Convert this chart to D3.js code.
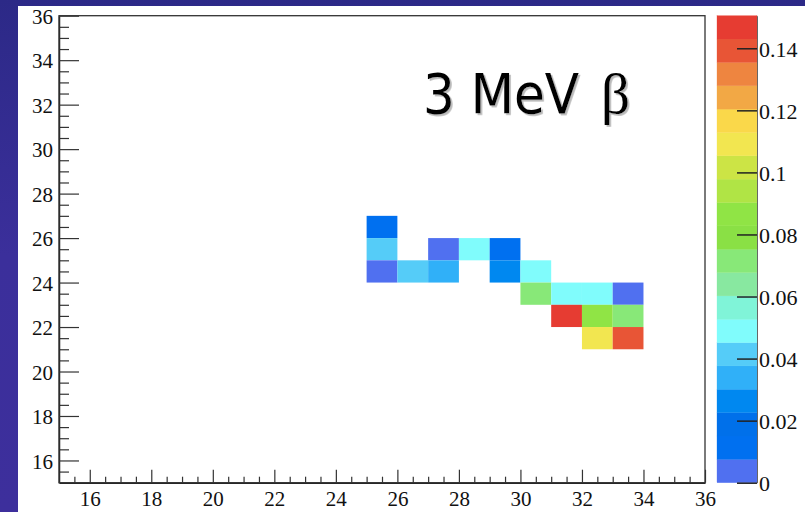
<!DOCTYPE html>
<html>
<head>
<meta charset="utf-8">
<script src="https://cdn.jsdelivr.net/npm/d3@7"></script>
<style>
  html, body { margin: 0; padding: 0; background: #2f2a8c; }
  svg { display: block; }
</style>
</head>
<body>
<svg id="chart" width="805" height="512"></svg>
<script>
// ---------------- data ----------------
const xDomain = [15, 36];
const yDomain = [15, 36];
const xTickValues = [16, 18, 20, 22, 24, 26, 28, 30, 32, 34, 36];
const yTickValues = [16, 18, 20, 22, 24, 26, 28, 30, 32, 34, 36];
const zTickValues = [0, 0.02, 0.04, 0.06, 0.08, 0.10, 0.12, 0.14];
const zTickLabels = ["0", "0.02", "0.04", "0.06", "0.08", "0.1", "0.12", "0.14"];
// bin lower edges (bins are 1 x 1) and bin contents
const cellX = [25, 25, 25, 26, 27, 27, 28, 29, 29, 30, 30, 31, 31, 32, 32, 32, 33, 33, 33];
const cellY = [26, 25, 24, 24, 25, 24, 25, 25, 24, 24, 23, 23, 22, 23, 22, 21, 23, 22, 21];
const cellZ = [0.012, 0.041, 0.004, 0.041, 0.004, 0.034, 0.049, 0.012, 0.026, 0.049,
               0.071, 0.049, 0.1505, 0.049, 0.083, 0.109, 0.004, 0.071, 0.139];
const zMax = 0.1505;
const nLevels = 20;
// palette, lowest level first
const palette = ["#5070f0", "#0070f0", "#0070ea", "#0088f0", "#30b0f8",
                 "#55ccf8", "#80fcfc", "#80f4d8", "#88e8a0", "#88e878",
                 "#8ae045", "#90e445", "#b0e445", "#cce445", "#f2e650",
                 "#fad84a", "#f2a845", "#ee8540", "#e85536", "#e63c32"];
const titleMain = "3 MeV";
const titleGreek = "β";

// ---------------- drawing ----------------
const svg = d3.select("#chart");
const defs = svg.append("defs");
const grad = defs.append("linearGradient").attr("id", "bg")
  .attr("x1", 0).attr("y1", 0).attr("x2", 0).attr("y2", 1);
grad.append("stop").attr("offset", "0%").attr("stop-color", "#2c2987");
grad.append("stop").attr("offset", "50%").attr("stop-color", "#3b2f9b");
grad.append("stop").attr("offset", "100%").attr("stop-color", "#3d2f9c");
const shadow = defs.append("filter").attr("id", "shadow")
  .attr("x", "-10%").attr("y", "-10%").attr("width", "130%").attr("height", "130%");
shadow.append("feDropShadow").attr("dx", 1.8).attr("dy", 1.8).attr("stdDeviation", 0.6)
  .attr("flood-color", "#9a9a9a").attr("flood-opacity", 0.7);

svg.append("rect").attr("width", 805).attr("height", 512).attr("fill", "url(#bg)");
// white canvas
svg.append("rect").attr("x", 18).attr("y", 6).attr("width", 787).attr("height", 506).attr("fill", "#ffffff");

const frame = { left: 59, right: 705, top: 15.7, bottom: 482.7 };
const x = d3.scaleLinear().domain(xDomain).range([frame.left, frame.right]);
const y = d3.scaleLinear().domain(yDomain).range([frame.bottom, frame.top]);
const color = d3.scaleQuantize().domain([0, zMax]).range(palette);

const cells = cellX.map((cx, i) => ({ x: cx, y: cellY[i], z: cellZ[i] }));
svg.append("g").selectAll("rect").data(cells).join("rect")
  .attr("x", d => x(d.x))
  .attr("y", d => y(d.y + 1))
  .attr("width", d => x(d.x + 1) - x(d.x))
  .attr("height", d => y(d.y) - y(d.y + 1))
  .attr("fill", d => color(Math.min(d.z, zMax * 0.9999)));

const fontAxis = "Liberation Serif, DejaVu Serif, serif";

// minor ticks (every 0.5)
const minorVals = d3.range(15.5, 36, 0.5).filter(v => Math.abs(v - Math.round(v / 2) * 2) > 1e-6);

const gxMinor = svg.append("g").attr("transform", `translate(0,${frame.bottom})`)
  .call(d3.axisBottom(x).tickValues(minorVals).tickSize(-6).tickFormat(""));
gxMinor.select(".domain").remove();
const gyMinor = svg.append("g").attr("transform", `translate(${frame.left},0)`)
  .call(d3.axisLeft(y).tickValues(minorVals).tickSize(-10).tickFormat(""));
gyMinor.select(".domain").remove();

const gx = svg.append("g").attr("transform", `translate(0,${frame.bottom})`)
  .call(d3.axisBottom(x).tickValues(xTickValues).tickSize(-13).tickSizeOuter(0).tickPadding(8).tickFormat(d3.format("d")));
const gy = svg.append("g").attr("transform", `translate(${frame.left},0)`)
  .call(d3.axisLeft(y).tickValues(yTickValues).tickSize(-20).tickSizeOuter(0).tickPadding(6).tickFormat(d3.format("d")));
gy.selectAll("text").attr("dy", "0.36em");

[gx, gy, gxMinor, gyMinor].forEach(g => {
  g.attr("font-family", fontAxis).attr("font-size", 21);
  g.selectAll("line").attr("stroke", "#333").attr("stroke-width", 1.2);
  g.selectAll("text").style("font-family", fontAxis).style("font-size", "21px").attr("fill", "#111");
  g.select(".domain").attr("stroke", "#222").attr("stroke-width", 1.5);
});

// frame
svg.append("rect")
  .attr("x", frame.left).attr("y", frame.top)
  .attr("width", frame.right - frame.left).attr("height", frame.bottom - frame.top)
  .attr("fill", "none").attr("stroke", "#333").attr("stroke-width", 1.3);

// colour bar
const bar = { x0: 717, x1: 757 };
const z = d3.scaleLinear().domain([0, zMax]).range([frame.bottom, frame.top]);
const step = zMax / nLevels;
svg.append("g").selectAll("rect").data(palette).join("rect")
  .attr("x", bar.x0)
  .attr("width", bar.x1 - bar.x0)
  .attr("y", (c, i) => z((i + 1) * step))
  .attr("height", (c, i) => z(i * step) - z((i + 1) * step))
  .attr("fill", c => c)
  .attr("stroke", c => c).attr("stroke-width", 0.3);

const gz = svg.append("g").attr("transform", `translate(${bar.x1},0)`)
  .call(d3.axisRight(z).tickValues(zTickValues).tickSize(-20).tickSizeOuter(0).tickPadding(2)
    .tickFormat((d, i) => zTickLabels[i]));
gz.attr("font-family", fontAxis).attr("font-size", 22);
gz.select(".domain").attr("stroke", "#666").attr("stroke-width", 1);
gz.selectAll("line").attr("stroke", "#222").attr("stroke-width", 1.5);
gz.selectAll("text").style("font-family", fontAxis).style("font-size", "22px").attr("fill", "#111").attr("dy", "0.36em");

// title text with faint shadow
const tg = svg.append("g").attr("filter", "url(#shadow)");
tg.append("text")
  .attr("x", 423).attr("y", 113)
  .attr("font-family", "DejaVu Sans Condensed, DejaVu Sans, sans-serif")
  .attr("font-size", 55)
  .attr("textLength", 156).attr("lengthAdjust", "spacingAndGlyphs")
  .attr("fill", "#000")
  .text(titleMain);
tg.append("text")
  .attr("x", 601).attr("y", 113)
  .attr("font-family", "Liberation Serif, DejaVu Serif, serif")
  .attr("font-size", 57)
  .attr("fill", "#000")
  .text(titleGreek);
</script>
</body>
</html>
